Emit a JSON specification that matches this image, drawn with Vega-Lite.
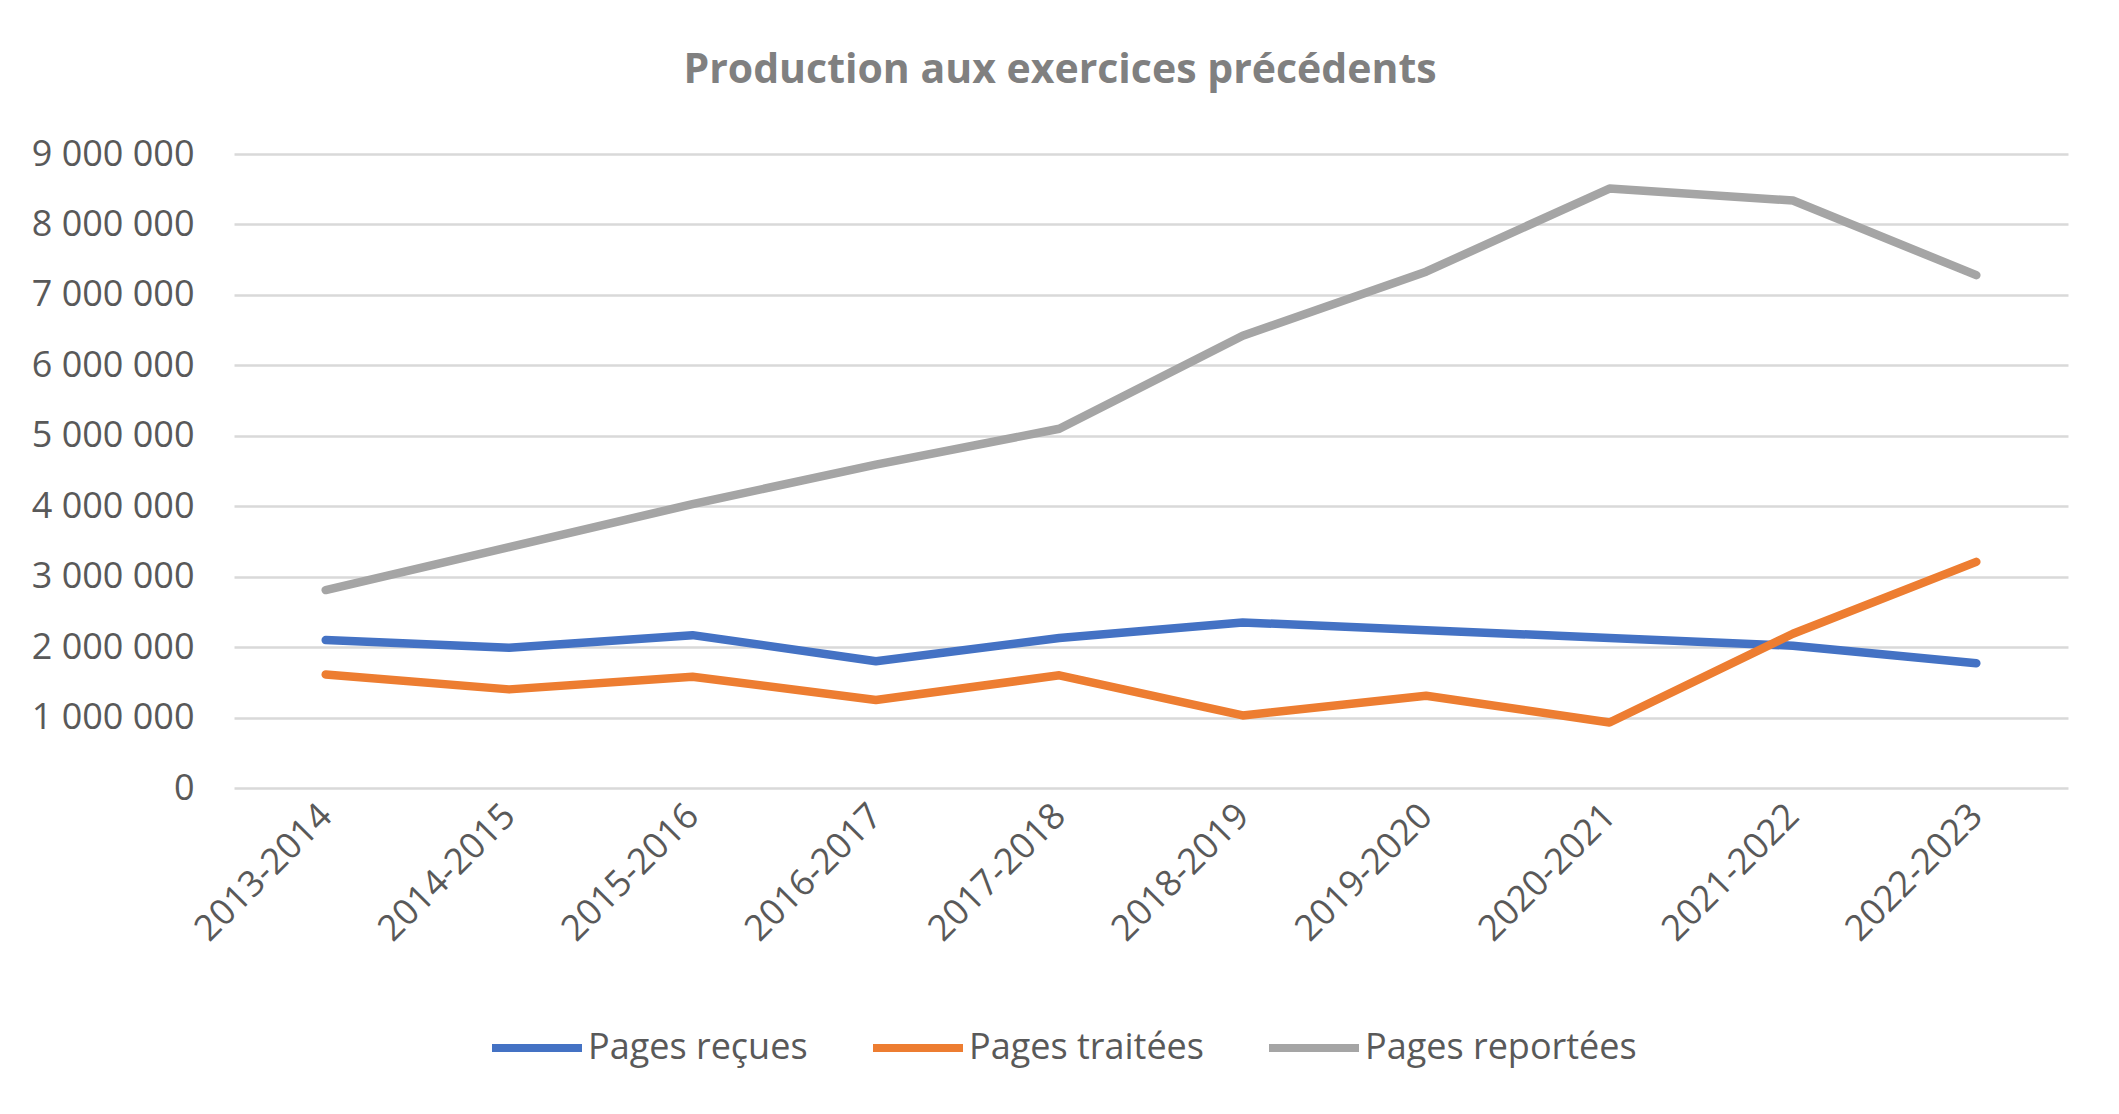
{
  "$schema": "https://vega.github.io/schema/vega-lite/v6.json",
  "width": 1834,
  "height": 634,
  "autosize": {"type": "none"},
  "padding": {"left": 234, "top": 154, "right": 51, "bottom": 326},
  "background": "white",
  "title": {
    "text": "Production aux exercices précédents",
    "anchor": "middle",
    "frame": "group",
    "dx": -91,
    "offset": 44,
    "font": "Open Sans",
    "fontSize": 41,
    "fontWeight": "bold",
    "color": "#808080"
  },
  "config": {
    "locale": {"number": {"decimal": ",", "thousands": " ", "grouping": [3], "currency": ["", " €"]}},
    "view": {"stroke": null},
    "axis": {"labelFont": "Open Sans", "labelFontSize": 36, "labelColor": "#595959", "ticks": false, "domain": false, "title": null},
    "legend": {"labelFont": "Open Sans", "labelFontSize": 36, "labelColor": "#595959", "labelLimit": 500}
  },
  "data": {
    "values": [
      {"exercice": "2013-2014", "serie": "Pages reçues", "pages": 2100000},
      {"exercice": "2014-2015", "serie": "Pages reçues", "pages": 1990000},
      {"exercice": "2015-2016", "serie": "Pages reçues", "pages": 2170000},
      {"exercice": "2016-2017", "serie": "Pages reçues", "pages": 1800000},
      {"exercice": "2017-2018", "serie": "Pages reçues", "pages": 2130000},
      {"exercice": "2018-2019", "serie": "Pages reçues", "pages": 2350000},
      {"exercice": "2019-2020", "serie": "Pages reçues", "pages": 2240000},
      {"exercice": "2020-2021", "serie": "Pages reçues", "pages": 2130000},
      {"exercice": "2021-2022", "serie": "Pages reçues", "pages": 2020000},
      {"exercice": "2022-2023", "serie": "Pages reçues", "pages": 1770000},
      {"exercice": "2013-2014", "serie": "Pages traitées", "pages": 1610000},
      {"exercice": "2014-2015", "serie": "Pages traitées", "pages": 1400000},
      {"exercice": "2015-2016", "serie": "Pages traitées", "pages": 1580000},
      {"exercice": "2016-2017", "serie": "Pages traitées", "pages": 1250000},
      {"exercice": "2017-2018", "serie": "Pages traitées", "pages": 1600000},
      {"exercice": "2018-2019", "serie": "Pages traitées", "pages": 1030000},
      {"exercice": "2019-2020", "serie": "Pages traitées", "pages": 1310000},
      {"exercice": "2020-2021", "serie": "Pages traitées", "pages": 930000},
      {"exercice": "2021-2022", "serie": "Pages traitées", "pages": 2190000},
      {"exercice": "2022-2023", "serie": "Pages traitées", "pages": 3210000},
      {"exercice": "2013-2014", "serie": "Pages reportées", "pages": 2810000},
      {"exercice": "2014-2015", "serie": "Pages reportées", "pages": 3420000},
      {"exercice": "2015-2016", "serie": "Pages reportées", "pages": 4030000},
      {"exercice": "2016-2017", "serie": "Pages reportées", "pages": 4590000},
      {"exercice": "2017-2018", "serie": "Pages reportées", "pages": 5100000},
      {"exercice": "2018-2019", "serie": "Pages reportées", "pages": 6420000},
      {"exercice": "2019-2020", "serie": "Pages reportées", "pages": 7330000},
      {"exercice": "2020-2021", "serie": "Pages reportées", "pages": 8510000},
      {"exercice": "2021-2022", "serie": "Pages reportées", "pages": 8340000},
      {"exercice": "2022-2023", "serie": "Pages reportées", "pages": 7280000}
    ]
  },
  "mark": {"type": "line", "strokeWidth": 8.5, "strokeCap": "round", "strokeJoin": "round"},
  "encoding": {
    "x": {
      "field": "exercice",
      "type": "ordinal",
      "scale": {"type": "point", "padding": 0.5},
      "axis": {"labelAngle": -45, "labelAlign": "right", "labelBaseline": "middle", "labelPadding": 22, "grid": false}
    },
    "y": {
      "field": "pages",
      "type": "quantitative",
      "scale": {"domain": [0, 9000000], "nice": false},
      "axis": {"values": [0, 1000000, 2000000, 3000000, 4000000, 5000000, 6000000, 7000000, 8000000, 9000000], "format": ",d", "labelPadding": 40, "gridColor": "#D9D9D9", "gridWidth": 2.5}
    },
    "color": {
      "field": "serie",
      "type": "nominal",
      "scale": {"domain": ["Pages reçues", "Pages traitées", "Pages reportées"], "range": ["#4472C4", "#ED7D31", "#A5A5A5"]},
      "legend": {
        "title": null,
        "orient": "none",
        "direction": "horizontal",
        "legendX": 254,
        "legendY": 845,
        "padding": 0,
        "symbolType": "stroke",
        "symbolSize": 8100,
        "symbolStrokeWidth": 8,
        "labelOffset": 2,
        "columnPadding": 49
      }
    }
  }
}
